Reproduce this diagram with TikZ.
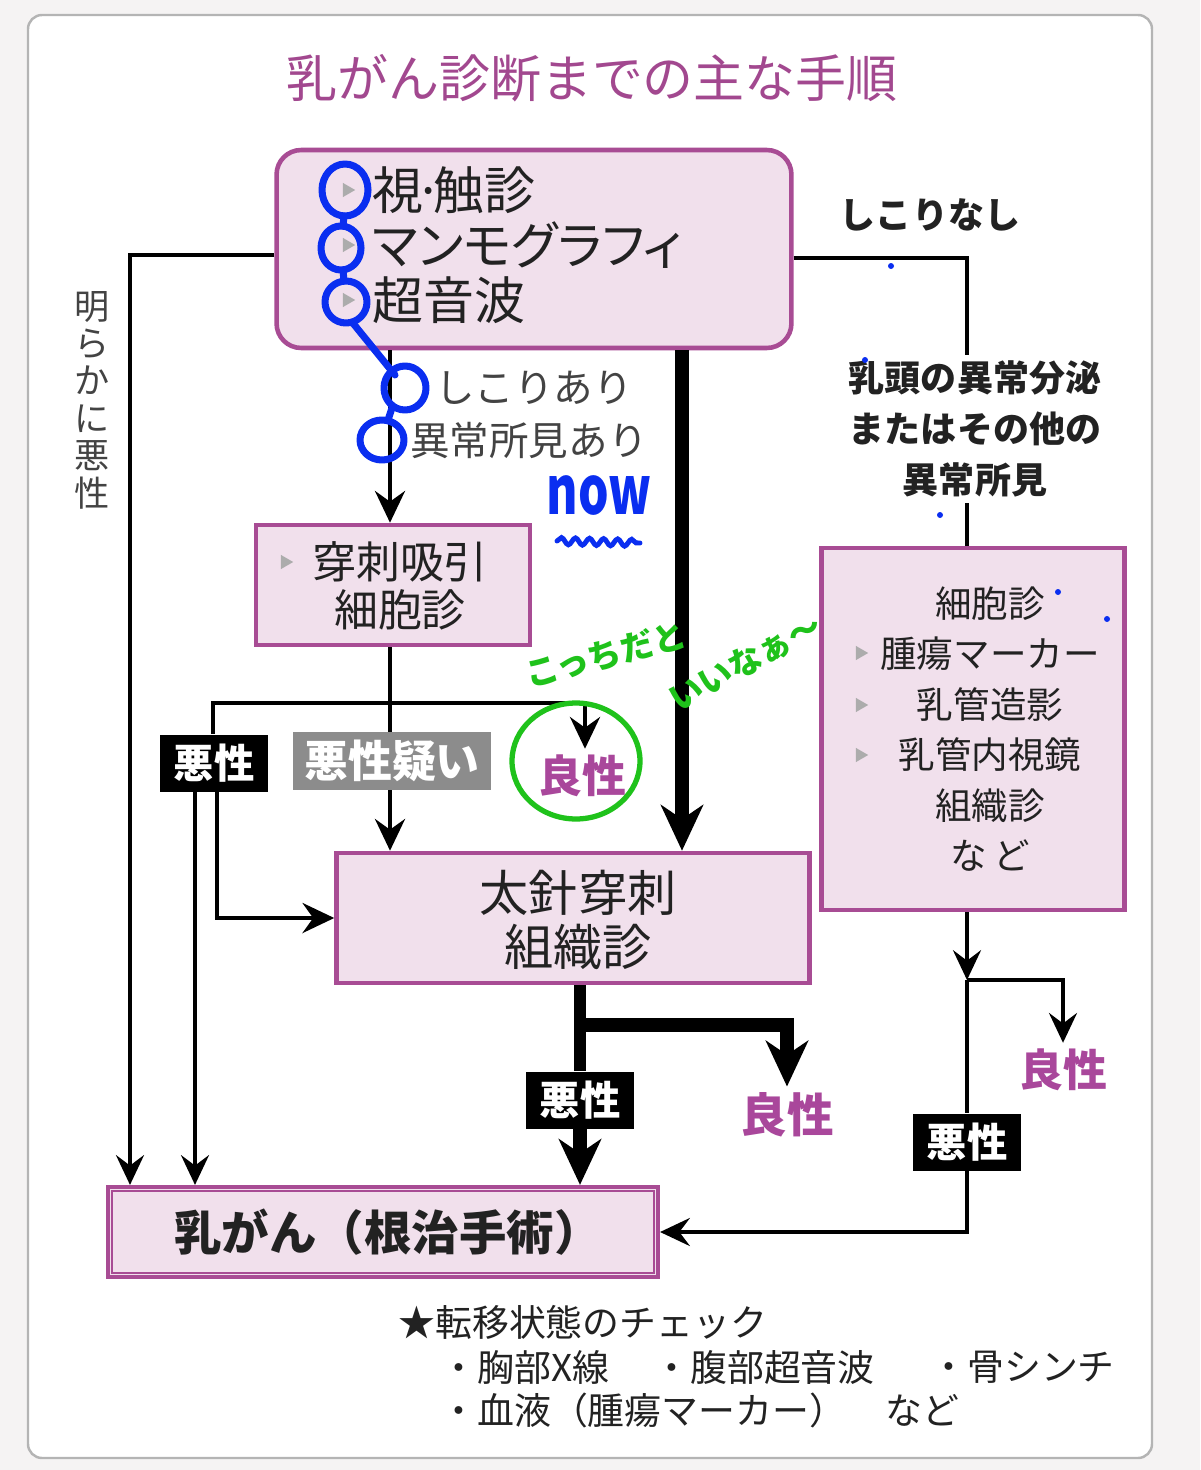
\documentclass[tikz,border=0pt]{standalone}
\usepackage{fontspec}
\setmainfont{Noto Sans CJK JP}
\usetikzlibrary{arrows.meta,positioning,shapes.geometric,decorations.pathmorphing}
\definecolor{pinkfill}{HTML}{F1E0EC}
\definecolor{pinkline}{HTML}{A84C94}
\definecolor{titlepink}{HTML}{A2488F}
\definecolor{benpink}{HTML}{A9479B}
\definecolor{ink}{HTML}{222222}
\definecolor{inkblue}{HTML}{0A2EF0}
\definecolor{inkgreen}{HTML}{1FC21B}
\definecolor{framegray}{HTML}{B4B4B4}
\definecolor{pagegray}{HTML}{F5F3F3}
\definecolor{suspgray}{HTML}{8C8C8C}

\begin{document}
\begin{tikzpicture}[x=0.02cm,y=-0.02cm,
  pbox/.style={draw=pinkline,line width=2.6pt,fill=pinkfill,inner sep=0pt},
  maltag/.style={fill=black,text=white,font=\bfseries\fontsize{23}{26}\selectfont,minimum width=2.16cm,minimum height=1.14cm,inner sep=0pt},
  benign/.style={text=benpink,font=\bfseries\fontsize{25}{28}\selectfont},
  item/.style={anchor=west,text=ink,inner sep=0pt,font=\fontsize{29}{32}\selectfont},
  note/.style={anchor=west,text=ink,inner sep=0pt,font=\fontsize{21}{24}\selectfont},
  tri/.style={isosceles triangle,isosceles triangle apex angle=60,fill=gray!65,draw=none,inner sep=0pt,minimum height=7pt},
  flow/.style={line width=2.8pt,-{Stealth[length=18pt,width=17pt,inset=6pt]}},
  flowthin/.style={line width=1.8pt,-{Stealth[length=17pt,width=16pt,inset=6pt]}},
  flowbold/.style={line width=8pt,-{Stealth[length=26pt,width=24pt,inset=8pt]}},
  handpen/.style={line width=4pt,line cap=round,line join=round},
  scrawl/.style={text=inkgreen,inner sep=1pt,font=\bfseries\fontsize{19}{22}\selectfont}]

\fill[pagegray] (0,0) rectangle (1200,1470);
\useasboundingbox (0,0) rectangle (1200,1470);
\draw[framegray,line width=1.4pt,fill=white,rounded corners=8pt] (28,15) rectangle (1152,1458);

\node[text=titlepink,font=\fontsize{29}{32}\selectfont] (title) at (592,78) {乳がん診断までの主な手順};

\node[pbox,rounded corners=14pt,minimum width=10.3cm,minimum height=3.96cm] (exam) at (534,249) {};
\node[item] (palp) at (372,190) {視\kern-.18em·\kern-.18em触診};
\node[item,font=\fontsize{29}{32}\selectfont\addfontfeature{RawFeature=+palt}] (mmg) at (372,245) {マンモグラフィ};
\node[item] (us) at (372,300) {超音波};
\node[tri] (t1) at (347,190) {};
\node[tri] (t2) at (347,245) {};
\node[tri] (t3) at (347,300) {};

\node[text=ink!85,align=center,font=\fontsize{20}{21.3}\selectfont] (clear) at (92,400) {明\\ら\\か\\に\\悪\\性};

\node[anchor=west,text=ink!85,inner sep=0pt,font=\fontsize{22.5}{26}\selectfont] (lump) at (435,388) {しこりあり};
\node[anchor=west,text=ink!85,inner sep=0pt,font=\fontsize{22.5}{26}\selectfont] (abn) at (410,440) {異常所見あり};

\node[text=ink,font=\bfseries\fontsize{20.5}{24}\selectfont] (nolump) at (930,215) {しこりなし};
\node[text=ink,align=center,font=\bfseries\fontsize{20.5}{29}\selectfont] (nipple) at (975,429) {乳頭の異常分泌\\またはその他の\\異常所見};

\node[pbox,minimum width=5.48cm,minimum height=2.4cm] (fna) at (393,585) {};
\node[text=ink,align=center,font=\fontsize{25}{27.2}\selectfont] (fnatxt) at (400,586) {穿刺吸引\\細胞診};
\node[tri] (t4) at (285,562) {};

\node[maltag] (malL) at (214,763) {悪性};
\node[maltag,fill=suspgray,minimum width=3.96cm,minimum height=1.16cm,font=\bfseries\fontsize{25}{28}\selectfont] (susp) at (392,761) {悪性疑い};
\node[benign] (benM) at (582,776) {良性};

\node[pbox,minimum width=9.46cm,minimum height=2.6cm] (core) at (573,918) {};
\node[text=ink,align=center,font=\fontsize{28}{30.6}\selectfont] (coretxt) at (578,920) {太針穿刺\\組織診};

\node[pbox,minimum width=6.06cm,minimum height=7.24cm] (cyto) at (973,729) {};
\node[text=ink,align=center,font=\fontsize{20.8}{28.7}\selectfont] (cytotxt) at (990,729) {細胞診\\腫瘍マーカー\\乳管造影\\乳管内視鏡\\組織診\\な\,ど};
\node[tri] (t5) at (860,653) {};
\node[tri] (t6) at (860,705) {};
\node[tri] (t7) at (860,755) {};

\node[maltag] (malC) at (580,1100) {悪性};
\node[benign,font=\bfseries\fontsize{26.5}{30}\selectfont] (benL) at (787,1115) {良性};
\node[benign] (benR) at (1063,1070) {良性};
\node[maltag] (malR) at (967,1142) {悪性};

\node[pbox,line width=2.4pt,minimum width=11cm,minimum height=1.8cm] (cancer) at (383,1232) {};
\draw[pinkline,line width=1pt] ([shift={(6,6)}]cancer.north west) rectangle ([shift={(-6,-6)}]cancer.south east);
\node[text=ink,font=\bfseries\fontsize{27}{30}\selectfont] (cancertxt) at (388,1232) {乳がん（根治手術）};

\node[note] (star) at (398,1322) {★転移状態のチェック};
\node[note] (chest) at (440,1367) {・胸部X線};
\node[note] (abd) at (653,1367) {・腹部超音波};
\node[note] (bone) at (930,1367) {・骨シンチ};
\node[note] (blood) at (440,1410) {・血液（腫瘍マーカー）};
\node[note] (etc) at (885,1410) {など};

\coordinate (jA) at (130,255);
\coordinate (jB) at (967,258);
\coordinate (jC) at (967,980);
\coordinate (jD) at (967,1232);
\coordinate (jE) at (682,600);
\coordinate (jF) at (390,703);
\coordinate (jG) at (213,703);
\coordinate (jH) at (585,703);
\coordinate (jI) at (195,900);
\coordinate (jK) at (217,918);
\coordinate (jJ) at (580,1025);

\draw[flowthin] (exam.west |- jA) -- (jA) -- (jA |- cancer.north);
\draw[line width=1.8pt] (exam.east |- jB) -- (jB) -- (jB |- nipple.north);
\draw[line width=1.8pt] (nipple.south -| jB) -- (jB |- cyto.north);
\draw[flowthin] (cyto.south -| jC) -- (jC);
\draw[flowthin] (jC) -| (benR.north);
\draw[line width=1.8pt] (jC) -- (malR.north);
\draw[flowthin] (malR.south) -- (jD) -- (cancer.east |- jD);

\draw[flowbold] (exam.south -| jE) -- (core.north -| jE);
\draw[flow] (exam.south -| jF) -- (fna.north -| jF);
\draw[line width=2.8pt] (fna.south -| jF) -- (susp.north -| jF);
\draw[flow] (malL.north -| jG) -- (jG) -- (jH) -- (benM.north -| jH);
\draw[flow] (susp.south -| jF) -- (core.north -| jF);
\draw[flow] (malL.south -| jK) -- (jK) -- (core.west |- jK);
\draw[flowthin] (malL.south -| jI) -- (cancer.north -| jI);
\draw[line width=7pt] (core.south -| jJ) -- (malC.north -| jJ);
\draw[flowbold] (malC.south -| jJ) -- (cancer.north -| jJ);
\draw[flowbold] (jJ) -| (benL.north);

\draw[handpen,inkblue] (345,190) circle [x radius=0.46cm,y radius=0.52cm];
\draw[handpen,inkblue] (341,248) circle [x radius=0.4cm,y radius=0.44cm];
\draw[handpen,inkblue] (346,302) circle [radius=0.42cm];
\draw[handpen,inkblue] (344,216) -- (343,226) (343,270) -- (344,281) (352,322) -- (395,375) (392,408) -- (388,420);
\draw[handpen,inkblue] (405,388) circle [x radius=0.42cm,y radius=0.44cm];
\draw[handpen,inkblue] (382,440) circle [x radius=0.44cm,y radius=0.4cm];
\node[text=inkblue,font=\bfseries\fontsize{38}{40}\selectfont] (now) at (599,496) {\scalebox{.72}[1]{now}};
\draw[inkblue,line width=2.8pt,line cap=round,decorate,decoration={snake,amplitude=2pt,segment length=8pt}] (557,541) -- (640,543);
\foreach \p in {(891,266),(865,360),(940,515),(1058,592),(1107,619)}
  \fill[inkblue] \p circle [radius=0.06cm];

\node[scrawl,rotate=15] (hope1) at (606,655) {こっちだと};
\node[scrawl,rotate=28] (hope2) at (745,662) {いいなぁ〜};
\draw[handpen,inkgreen,line width=3pt] (576,761) ellipse [x radius=1.28cm,y radius=1.16cm];
\end{tikzpicture}
\end{document}
